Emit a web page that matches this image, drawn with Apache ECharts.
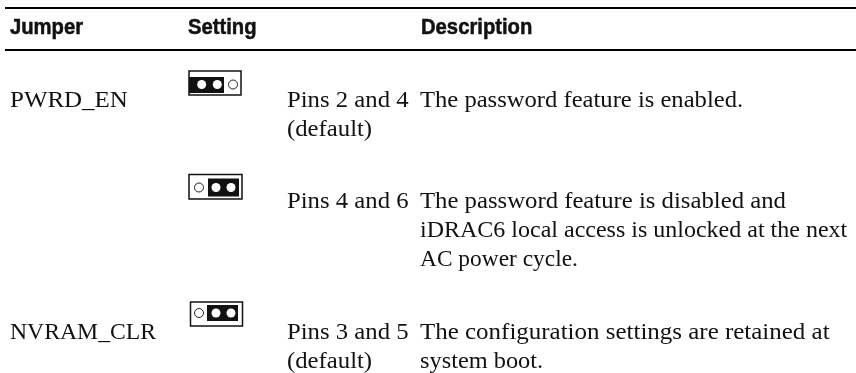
<!DOCTYPE html>
<html><head><meta charset="utf-8"><style>html,body{margin:0;padding:0;background:#fff}#c{width:856px;height:373px}</style>
<script src="https://cdn.jsdelivr.net/npm/echarts@6/dist/echarts.min.js"></script></head><body><div id="c"></div>
<script>
const headers = ["Jumper", "Setting", "Description"];
const jumpers = ["PWRD_EN", "", "NVRAM_CLR"];
const settings = [["Pins 2 and 4", "(default)"], ["Pins 4 and 6"], ["Pins 3 and 5", "(default)"]];
const descriptions = [
  ["The password feature is enabled."],
  ["The password feature is disabled and", "iDRAC6 local access is unlocked at the next", "AC power cycle."],
  ["The configuration settings are retained at", "system boot."]
];
const closedPins = [[true, true, false], [false, true, true], [false, true, true]];

const headerX = [10, 188, 421];
const headerBaseline = 34;
const ruleY = [8, 50];
const rowBaseline = [107, 208, 339];
const lineGap = 29;
const colX = [10, 287, 420];
const jumperFrame = [[189, 71, 52, 24], [189, 174.5, 53, 24.5], [190.5, 302, 52, 24]];
const jumperBlock = [[189, 77, 35, 16], [208, 178.5, 31, 18], [207, 305, 31, 16]];
const jumperPinX = [[201.7, 217.3, 233], [199, 216, 231], [199, 216, 231]];
const jumperPinY = [84.5, 187.5, 313];
const bodySize = 24, headSize = 22;
const bodyFont = bodySize + 'px "Liberation Serif"';
const headFont = 'bold ' + headSize + 'px "Liberation Sans"';
const ink = '#111';
const headerScale = 0.92;
const jumperScale = [1.04, 1, 0.987], settingScale = 1.03;
const descScale = [[1.025], [1.03, 1.0, 0.975], [1.04, 1.015]];

const els = [];
const text = (t, x, base, font, size, sx, heavy) => els.push({
  type: 'text', silent: true, x, y: base, scaleX: sx || 1, originX: 0, originY: 0,
  style: {text: t, x: 0, y: -0.77 * size, font, fill: ink, verticalAlign: 'top', align: 'left',
          stroke: heavy ? ink : null, lineWidth: heavy ? 0.5 : 0}
});
ruleY.forEach(y => els.push({type: 'rect', shape: {x: 5, y: y - 1, width: 851, height: 2}, style: {fill: '#000'}}));
headers.forEach((h, i) => text(h, headerX[i], headerBaseline, headFont, headSize, headerScale, true));
rowBaseline.forEach((y, r) => {
  text(jumpers[r], colX[0], y, bodyFont, bodySize, jumperScale[r]);
  settings[r].forEach((t, k) => text(t, colX[1], y + k * lineGap, bodyFont, bodySize, settingScale));
  descriptions[r].forEach((t, k) => text(t, colX[2], y + k * lineGap, bodyFont, bodySize, descScale[r][k]));
  const [fx, fy, fw, fh] = jumperFrame[r];
  els.push({type: 'rect', shape: {x: fx, y: fy, width: fw, height: fh}, style: {fill: '#fff', stroke: '#111', lineWidth: 1.5}});
  const [kx, ky, kw, kh] = jumperBlock[r];
  els.push({type: 'rect', shape: {x: kx, y: ky, width: kw, height: kh}, style: {fill: '#111'}});
  closedPins[r].forEach((on, i) => els.push({type: 'circle', shape: {cx: jumperPinX[r][i], cy: jumperPinY[r], r: 4.5}, style: on ? {fill: '#fff'} : {fill: '#fff', stroke: '#222', lineWidth: 1}}));
});
const chart = echarts.init(document.getElementById('c'), null, {renderer: 'canvas'});
chart.setOption({animation: false, backgroundColor: '#fff', graphic: {elements: els}});
</script></body></html>
